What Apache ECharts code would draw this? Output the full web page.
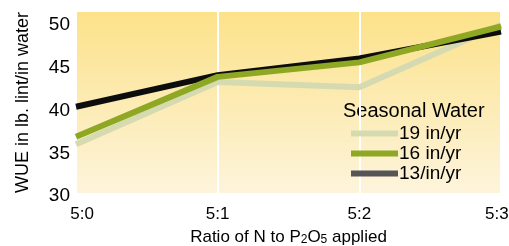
<!DOCTYPE html>
<html lang="en">
<head>
    <meta charset="UTF-8">
    <title>WUE</title>
    <script src="https://cdn.jsdelivr.net/npm/echarts@6/dist/echarts.min.js"></script>
    <style>
        html, body {margin: 0; padding: 0; background: #fff;}
        #chart {width: 509px; height: 246px;}
    </style>
</head>
<body>
<div id="chart"></div>
<script>
    var categories = ['5:0', '5:1', '5:2', '5:3'];
    var water19 = [35.7, 43.0, 42.4, 49.7];
    var water16 = [36.6, 43.6, 45.3, 49.5];
    var water13 = [40.1, 43.8, 45.75, 48.9];
    var yTicks = [30, 35, 40, 45, 50];

    var font = 'Liberation Sans';
    var chart = echarts.init(document.getElementById('chart'));
    var option = {
        animation: false,
        grid: {
            left: 76, right: 8, top: 12, bottom: 53,
            outerBoundsMode: 'none',
            containLabel: false,
            show: true,
            borderWidth: 0,
            backgroundColor: {
                type: 'linear', x: 0, y: 0, x2: 0, y2: 1,
                colorStops: [{offset: 0, color: '#fce28a'}, {offset: 1, color: '#fdf4dc'}]
            }
        },
        graphic: [{
            type: 'text', left: 343, top: 101,
            style: {text: 'Seasonal Water', font: '20px ' + font, fill: '#000'}
        }],
        legend: {
            orient: 'vertical',
            left: 346, top: 119,
            icon: 'rect',
            itemWidth: 47, itemHeight: 6,
            itemGap: 1,
            textStyle: {fontFamily: font, fontSize: 19, color: '#000', padding: [0, 0, 0, -4]},
            data: [
                {name: '19 in/yr', itemStyle: {color: '#d5dab1'}},
                {name: '16 in/yr', itemStyle: {color: '#8ea824'}},
                {name: '13/in/yr', itemStyle: {color: '#555'}}
            ]
        },
        xAxis: {
            type: 'category',
            boundaryGap: false,
            data: categories,
            axisLine: {show: false},
            axisTick: {show: false},
            splitLine: {show: true, lineStyle: {color: '#fff', width: 2}},
            axisLabel: {
                fontFamily: font, fontSize: 17, color: '#000', margin: 13,
                showMinLabel: true, showMaxLabel: true,
                formatter: function (v, i) {
                    if (i === 0) return '{l|' + v + '}';
                    if (i === categories.length - 1) return '{r|' + v + '}';
                    return v;
                },
                rich: {
                    l: {fontFamily: font, fontSize: 17, color: '#000', width: 36, align: 'right'},
                    r: {fontFamily: font, fontSize: 17, color: '#000', width: 32, align: 'left'}
                }
            },
            name: '{a|Ratio of N to P}{s|2}{a|O}{s|5}{a| applied}',
            nameLocation: 'middle',
            nameGap: 36,
            nameTextStyle: {
                rich: {
                    a: {fontFamily: font, fontSize: 17, color: '#000'},
                    s: {fontFamily: font, fontSize: 12, color: '#000', padding: [4, 0, 0, 0]}
                }
            }
        },
        yAxis: {
            type: 'value',
            min: 30, max: 51.2, interval: 5,
            axisLine: {show: false},
            axisTick: {show: false},
            splitLine: {show: false},
            axisLabel: {
                margin: 6,
                showMaxLabel: false,
                formatter: function (v) { return yTicks.indexOf(v) >= 0 ? '{v|' + v + '}' : ''; },
                rich: {
                    v: {fontFamily: font, fontSize: 19, color: '#000', padding: [6, 0, 0, 0]}
                }
            },
            name: 'WUE in lb. lint/in water',
            nameLocation: 'middle',
            nameRotate: 90,
            nameGap: 44,
            nameTextStyle: {fontFamily: font, fontSize: 18, color: '#000'}
        },
        series: [
            {name: '19 in/yr', type: 'line', data: water19, symbol: 'none',
                lineStyle: {color: '#d5dab1', width: 6}, itemStyle: {color: '#d5dab1'}},
            {name: '13/in/yr', type: 'line', data: water13, symbol: 'none',
                lineStyle: {color: '#0d0d0d', width: 6}, itemStyle: {color: '#555'}},
            {name: '16 in/yr', type: 'line', data: water16, symbol: 'none',
                lineStyle: {color: '#8ea824', width: 6}, itemStyle: {color: '#8ea824'}}
        ]
    };
    chart.setOption(option);
</script>
</body>
</html>
